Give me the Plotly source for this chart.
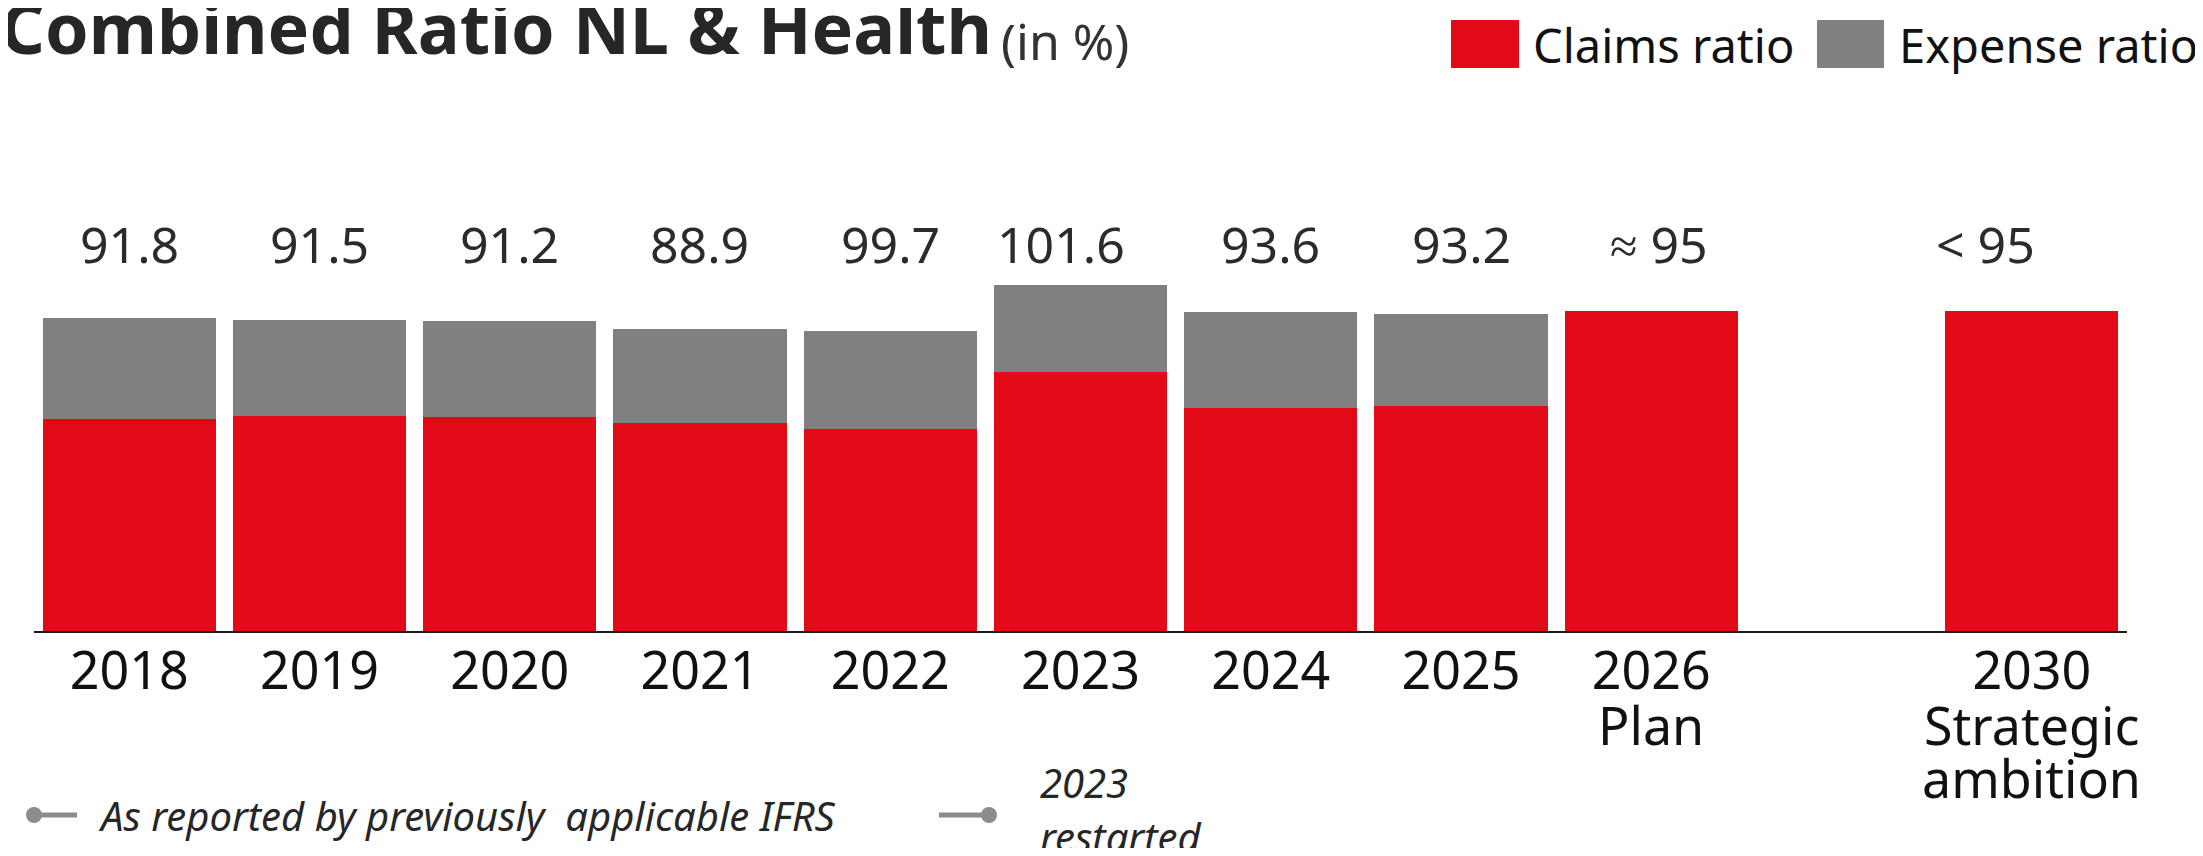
import plotly.graph_objects as go

# --- data ------------------------------------------------------------------
years = ["2018", "2019", "2020", "2021", "2022", "2023", "2024", "2025", "2026", "2030"]
slots = [0, 1, 2, 3, 4, 5, 6, 7, 8, 10]          # one empty slot before 2030
sub_labels = [[], [], [], [], [], [], [], [], ["Plan"], ["Strategic", "ambition"]]
claims_ratio = [62.2, 63.1, 62.8, 61.0, 59.2, 76.0, 65.4, 66.0, 93.9, 93.9]
expense_ratio = [29.6, 28.1, 28.1, 27.6, 28.8, 25.5, 28.2, 27.0, None, None]
combined_labels = ["91.8", "91.5", "91.2", "88.9", "99.7", "101.6", "93.6", "93.2", "≈ 95", "< 95"]
label_shift = [0, 0, 0, 0, 0, -20, 0, 0, 8, -46]

RED = "#e20a17"
GREY = "#808080"
FONT = "Noto Sans"

# the page body keeps its default 8px margin, so work in page pixels and convert
OFF = 8
W, H = 2203 - 2 * OFF, 856 - 2 * OFF
PLOT_LEFT, PLOT_RIGHT, PLOT_TOP, PLOT_BOTTOM = 34, 2127, 100, 631   # page pixels
L, R = PLOT_LEFT - OFF, W - (PLOT_RIGHT - OFF)
T, B = PLOT_TOP - OFF, H - (PLOT_BOTTOM - OFF)
plot_w, plot_h = W - L - R, H - T - B
px_per_pct = 3.41


def xp(px):
    return (px - PLOT_LEFT) / plot_w


def yp(py):
    return (PLOT_BOTTOM - py) / plot_h


fig = go.Figure()
fig.add_trace(go.Bar(x=slots, y=claims_ratio, name="Claims ratio",
                     marker=dict(color=RED, line=dict(width=0))))
fig.add_trace(go.Bar(x=slots[:8], y=expense_ratio[:8], name="Expense ratio",
                     marker=dict(color=GREY, line=dict(width=0))))

annotations = []
for x, text, dx in zip(slots, combined_labels, label_shift):
    annotations.append(dict(x=x, xref="x", y=yp(244), yref="paper", text=text,
                            showarrow=False, xshift=dx, yanchor="middle",
                            font=dict(family=FONT, size=50, color="#2b2b2b")))
for x, lines in zip(slots, sub_labels):
    for i, line in enumerate(lines):
        annotations.append(dict(x=x, xref="x", y=yp(724 + 53 * i), yref="paper",
                                text=line, showarrow=False, yanchor="middle",
                                font=dict(family=FONT, size=52, color="#111111")))

# title
annotations.append(dict(x=xp(-2), y=yp(27), xref="paper", yref="paper", xanchor="left",
                        yanchor="middle", showarrow=False,
                        text="<b>Combined Ratio NL & Health</b>",
                        font=dict(family=FONT, size=70, color="#262626")))
annotations.append(dict(x=xp(999), y=yp(41), xref="paper", yref="paper", xanchor="left",
                        yanchor="middle", showarrow=False, text="(in %)",
                        font=dict(family=FONT, size=50, color="#333333")))

# legend (top right)
shapes = []
for x0, x1, col, text, tx in [(1451, 1519, RED, "Claims ratio", 1531),
                              (1817, 1884, GREY, "Expense ratio", 1897)]:
    shapes.append(dict(type="rect", xref="paper", yref="paper", x0=xp(x0), x1=xp(x1),
                       y0=yp(68), y1=yp(20), fillcolor=col, line=dict(width=0)))
    annotations.append(dict(x=xp(tx), y=yp(45), xref="paper", yref="paper", xanchor="left",
                            yanchor="middle", showarrow=False, text=text,
                            font=dict(family=FONT, size=47, color="#111111")))

# footnote legend
for lx0, lx1, dot in [(34, 77, 34), (939, 986, 989)]:
    shapes.append(dict(type="line", xref="paper", yref="paper", x0=xp(lx0), x1=xp(lx1),
                       y0=yp(815), y1=yp(815), line=dict(color="#8c8c8c", width=5)))
    shapes.append(dict(type="circle", xref="paper", yref="paper", x0=xp(dot - 8),
                       x1=xp(dot + 8), y0=yp(823), y1=yp(807),
                       fillcolor="#8c8c8c", line=dict(width=0)))
for text, tx, ty in [("<i>As reported by previously  applicable IFRS</i>", 96, 815),
                     ("<i>2023</i>", 1038, 782), ("<i>restarted</i>", 1038, 836)]:
    annotations.append(dict(x=xp(tx), y=yp(ty), xref="paper", yref="paper", xanchor="left",
                            yanchor="middle", showarrow=False, text=text,
                            font=dict(family=FONT, size=40, color="#262626")))

fig.update_layout(
    width=W, height=H,
    margin=dict(l=L, r=R, t=T, b=B),
    barmode="stack", bargap=0.09,
    plot_bgcolor="white", paper_bgcolor="white",
    showlegend=False,
    xaxis=dict(range=[-0.5, 10.5], tickvals=slots, ticktext=years, showgrid=False,
               zeroline=False, showline=True, linecolor="#1a1a1a", linewidth=2,
               ticks="", ticklabelstandoff=-6,
               tickfont=dict(family=FONT, size=52, color="#111111")),
    yaxis=dict(range=[0, plot_h / px_per_pct], visible=False),
    annotations=annotations,
    shapes=shapes,
)

fig.write_html("out.html")
